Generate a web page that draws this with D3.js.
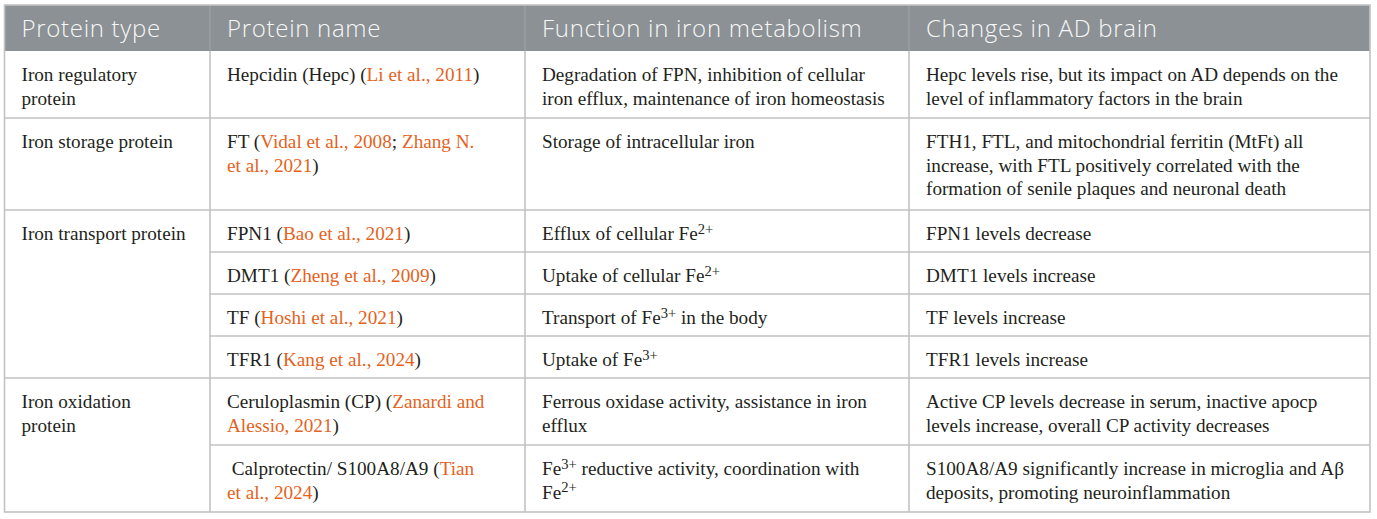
<!DOCTYPE html>
<html>
<head>
<meta charset="utf-8">
<script src="https://cdn.jsdelivr.net/npm/d3@7"></script>
<style>
  body { margin: 0; background: #fff; }
  text { white-space: pre; }
</style>
</head>
<body>
<svg id="table-svg"></svg>
<script>
// table content; {..} marks a citation, ^..^ a superscript
const headers = ["Protein type", "Protein name", "Function in iron metabolism", "Changes in AD brain"];

const proteinTypes = [
  ["Iron regulatory", "protein"],
  ["Iron storage protein"],
  ["Iron transport protein"],
  ["Iron oxidation", "protein"]
];
// which protein type each row belongs to
const rowType = [0, 1, 2, 2, 2, 2, 3, 3];

const proteinNames = [
  ["Hepcidin (Hepc) ({Li et al., 2011})"],
  ["FT ({Vidal et al., 2008}; {Zhang N.}", "{et al., 2021})"],
  ["FPN1 ({Bao et al., 2021})"],
  ["DMT1 ({Zheng et al., 2009})"],
  ["TF ({Hoshi et al., 2021})"],
  ["TFR1 ({Kang et al., 2024})"],
  ["Ceruloplasmin (CP) ({Zanardi and}", "{Alessio, 2021})"],
  [" Calprotectin/ S100A8/A9 ({Tian}", "{et al., 2024})"]
];

const functions = [
  ["Degradation of FPN, inhibition of cellular", "iron efflux, maintenance of iron homeostasis"],
  ["Storage of intracellular iron"],
  ["Efflux of cellular Fe^2+^"],
  ["Uptake of cellular Fe^2+^"],
  ["Transport of Fe^3+^ in the body"],
  ["Uptake of Fe^3+^"],
  ["Ferrous oxidase activity, assistance in iron", "efflux"],
  ["Fe^3+^ reductive activity, coordination with", "Fe^2+^"]
];

const changes = [
  ["Hepc levels rise, but its impact on AD depends on the", "level of inflammatory factors in the brain"],
  ["FTH1, FTL, and mitochondrial ferritin (MtFt) all", "increase, with FTL positively correlated with the", "formation of senile plaques and neuronal death"],
  ["FPN1 levels decrease"],
  ["DMT1 levels increase"],
  ["TF levels increase"],
  ["TFR1 levels increase"],
  ["Active CP levels decrease in serum, inactive apocp", "levels increase, overall CP activity decreases"],
  ["S100A8/A9 significantly increase in microglia and A\u03b2", "deposits, promoting neuroinflammation"]
];

const width = 1377, height = 519;
const tblLeft = 4.5, tblTop = 5, headerH = 46;
const colEdges = [tblLeft, 210, 525, 909, 1370];
const padX = 17, lineH = 23.5, firstBase = 30;
const bodySize = 19.2;
const gridColor = "#c2c2c2";
const headFill = "#8b9194";
const textColor = "#231f20";
const linkColor = "#e5621c";
const bodyFont = "'Liberation Serif', 'Times New Roman', serif";
const headFont = "'Open Sans', 'Noto Sans', sans-serif";

const svg = d3.select("#table-svg")
  .attr("width", width)
  .attr("height", height);

const x = d3.scaleOrdinal().domain(d3.range(5)).range(colEdges);

// row heights from number of text lines in each row
const nLines = proteinNames.map(function(d, i) {
  let n = Math.max(d.length, functions[i].length, changes[i].length);
  const t = rowType[i];
  if (rowType.filter(r => r === t).length === 1) n = Math.max(n, proteinTypes[t].length);
  return n;
});
const rowH = nLines.map(n => 17 + 25 * n);
const rowTops = [tblTop + headerH].concat(Array.from(d3.cumsum(rowH), c => tblTop + headerH + c));
const y = d3.scaleOrdinal().domain(d3.range(rowTops.length)).range(rowTops);
const tblBottom = rowTops[rowTops.length - 1];

function writeLine(sel, str, size) {
  const parts = str.split(/(\{[^}]*\}|\^[^^]*\^)/).filter(p => p.length);
  let raised = false;
  parts.forEach(function(p) {
    const ts = sel.append("tspan");
    if (p[0] === "{") {
      ts.text(p.slice(1, -1)).attr("fill", linkColor);
      if (raised) { ts.attr("dy", 6.5); raised = false; }
    } else if (p[0] === "^") {
      ts.text(p.slice(1, -1)).attr("font-size", size * 0.76).attr("dy", -6.5);
      raised = true;
    } else {
      ts.text(p);
      if (raised) { ts.attr("dy", 6.5); raised = false; }
    }
  });
}

function writeCell(lines, cx, cy) {
  lines.forEach(function(l, k) {
    const t = svg.append("text")
      .attr("x", cx + padX)
      .attr("y", cy + firstBase + k * lineH)
      .attr("font-family", bodyFont)
      .attr("font-size", bodySize)
      .attr("fill", textColor);
    writeLine(t, l, bodySize);
  });
}

// header band
svg.append("rect")
  .attr("x", tblLeft).attr("y", tblTop)
  .attr("width", colEdges[4] - tblLeft).attr("height", headerH)
  .attr("fill", headFill);

svg.selectAll("text.head")
  .data(headers)
  .enter()
  .append("text")
  .attr("class", "head")
  .attr("x", (d, i) => x(i) + padX)
  .attr("y", tblTop + 32)
  .attr("font-family", headFont)
  .attr("font-weight", 300)
  .attr("font-size", 24)
  .attr("letter-spacing", 0.7)
  .attr("fill", "#f7f7f7")
  .text(d => d);

// body text
rowType.forEach(function(t, i) {
  if (rowType.indexOf(t) === i) writeCell(proteinTypes[t], x(0), y(i));
  writeCell(proteinNames[i], x(1), y(i));
  writeCell(functions[i], x(2), y(i));
  writeCell(changes[i], x(3), y(i));
});

// horizontal grid lines between rows
const hLines = [];
rowTops.forEach(function(yy, i) {
  if (i === 0 || i === rowTops.length - 1) return;
  const sameType = rowType[i] === rowType[i - 1];
  hLines.push({ y: yy, x1: sameType ? x(1) : tblLeft, x2: colEdges[4] });
});
svg.selectAll("line.h")
  .data(hLines)
  .enter()
  .append("line")
  .attr("x1", d => d.x1).attr("x2", d => d.x2)
  .attr("y1", d => d.y).attr("y2", d => d.y)
  .attr("stroke", gridColor).attr("stroke-width", 1.6);

// vertical separators
svg.selectAll("line.v")
  .data([1, 2, 3])
  .enter()
  .append("line")
  .attr("x1", d => x(d)).attr("x2", d => x(d))
  .attr("y1", tblTop + headerH).attr("y2", tblBottom)
  .attr("stroke", gridColor).attr("stroke-width", 1.6);

svg.selectAll("line.hv")
  .data([1, 2, 3])
  .enter()
  .append("line")
  .attr("x1", d => x(d)).attr("x2", d => x(d))
  .attr("y1", tblTop).attr("y2", tblTop + headerH)
  .attr("stroke", "#9ea3a6").attr("stroke-width", 1.2);

// outer frame
svg.append("rect")
  .attr("x", tblLeft).attr("y", tblTop)
  .attr("width", colEdges[4] - tblLeft).attr("height", tblBottom - tblTop)
  .attr("fill", "none")
  .attr("stroke", gridColor).attr("stroke-width", 1.6);
</script>
</body>
</html>
